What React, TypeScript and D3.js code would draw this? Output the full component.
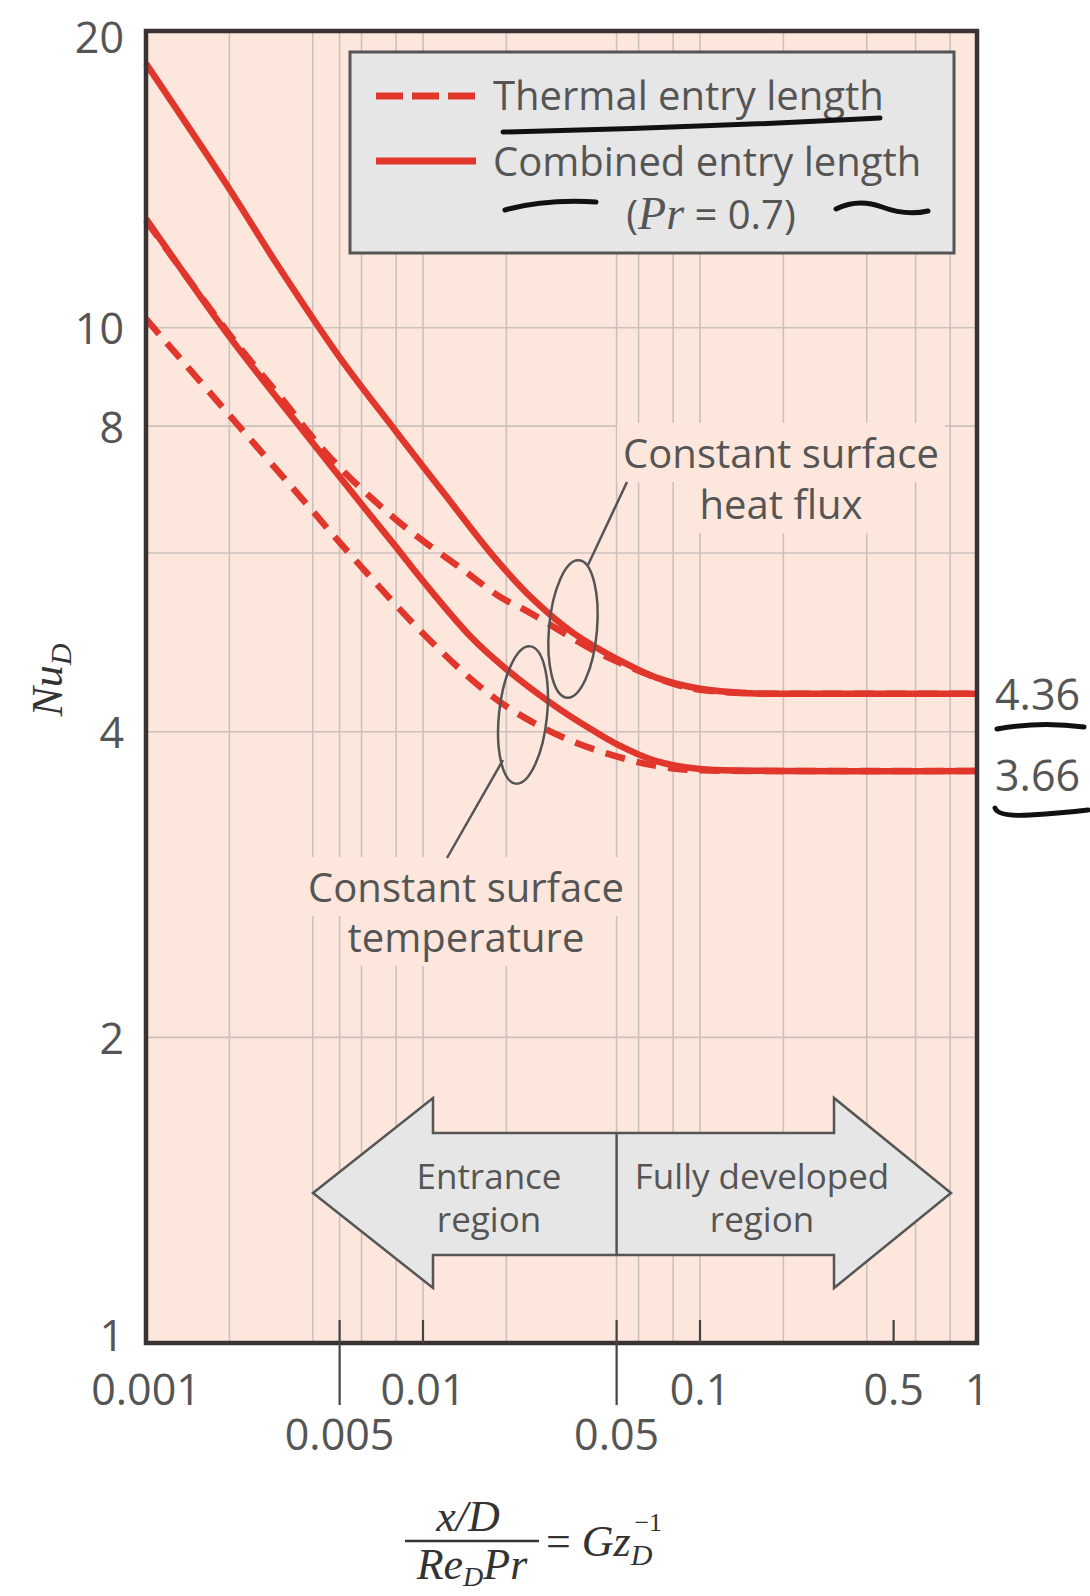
import React, { useEffect, useRef } from "react";
import * as d3 from "d3";

// Nu_D against (x/D)/(Re_D Pr)
const fluxCombined: [number, number][] = [
  [0.001, 18.2], [0.002, 13.7], [0.003, 11.5], [0.005, 9.35], [0.008, 7.9],
  [0.012, 6.85], [0.018, 5.95], [0.025, 5.4], [0.035, 5.0], [0.05, 4.72],
  [0.07, 4.52], [0.1, 4.41], [0.15, 4.365], [0.25, 4.36], [1, 4.36]
];
const fluxThermal: [number, number][] = [
  [0.001, 12.75], [0.002, 9.85], [0.003, 8.6], [0.0046, 7.46], [0.008, 6.47],
  [0.014, 5.77], [0.019, 5.43], [0.024, 5.25], [0.042, 4.8], [0.056, 4.63],
  [0.08, 4.46], [0.1, 4.4], [0.15, 4.365], [0.25, 4.36], [1, 4.36]
];
const tempCombined: [number, number][] = [
  [0.001, 12.8], [0.002, 9.8], [0.003, 8.5], [0.004, 7.7], [0.006, 6.7],
  [0.008, 6.08], [0.01, 5.63], [0.015, 4.95], [0.02, 4.61], [0.03, 4.24],
  [0.04, 4.03], [0.05, 3.89], [0.07, 3.74], [0.1, 3.675], [0.15, 3.662], [1, 3.66]
];
const tempThermal: [number, number][] = [
  [0.001, 10.2], [0.002, 8.2], [0.0035, 6.88], [0.006, 5.81], [0.0106, 4.92],
  [0.0185, 4.3], [0.032, 3.95], [0.056, 3.75], [0.08, 3.68], [0.1, 3.665],
  [0.15, 3.66], [1, 3.66]
];

const yTickValues = [1, 2, 4, 8, 10, 20];
const yGridValues = [2, 4, 6, 8, 10];
const xTicksUpper = [0.001, 0.01, 0.1, 0.5, 1];
const xTicksLower = [0.005, 0.05];
const xGridValues = [0.002, 0.004, 0.005, 0.006, 0.008, 0.01, 0.02, 0.05, 0.06, 0.08, 0.1, 0.2, 0.4, 0.6, 0.8];
const limitValues = [4.36, 3.66];
const legendLabels = ["Thermal entry length", "Combined entry length"];

const SANS = "'Open Sans', 'DejaVu Sans', sans-serif";
const SERIF = "'Liberation Serif', 'Times New Roman', serif";
const RED = "#e0362b";
const TEXT = "#555";
const BG = "#fde7dc";

const renderChart = (svg) => {
    svg.selectAll("*").remove();

    const left = 146, right = 977, top = 31, bottom = 1343;
    const x = d3.scaleLog().domain([0.001, 1]).range([left, right]);
    const y = d3.scaleLog().domain([1, 19.6]).range([bottom, top]).clamp(true);

    svg.append("rect").attr("width", 1090).attr("height", 1596).attr("fill", "#fff");
    svg.append("rect")
        .attr("x", left).attr("y", top)
        .attr("width", right - left).attr("height", bottom - top)
        .attr("fill", BG);

    // grid
    const grid = svg.append("g").attr("stroke", "#cbc1bd").attr("stroke-width", 1.6);
    grid.selectAll(".vg").data(xGridValues).enter().append("line")
        .attr("x1", d => x(d)).attr("x2", d => x(d))
        .attr("y1", top).attr("y2", bottom);
    grid.selectAll(".hg").data(yGridValues).enter().append("line")
        .attr("x1", left).attr("x2", right)
        .attr("y1", d => y(d)).attr("y2", d => y(d));

    // curves
    const line = d3.line()
        .x(d => x(d[0]))
        .y(d => y(d[1]))
        .curve(d3.curveCatmullRom.alpha(0.5));

    const curves = svg.append("g").attr("fill", "none").attr("stroke", RED)
        .attr("stroke-width", 6.5);
    [fluxCombined, tempCombined].forEach(s => {
        curves.append("path").attr("d", line(s));
    });
    [fluxThermal, tempThermal].forEach(s => {
        curves.append("path").attr("d", line(s)).attr("stroke-dasharray", "20 12");
    });

    // annotations
    const note = svg.append("g").attr("font-family", SANS).attr("font-size", 40)
        .attr("fill", TEXT).attr("text-anchor", "middle");
    const notes = [
        {x: 781, y: 468, t: "Constant surface"},
        {x: 781, y: 519, t: "heat flux"},
        {x: 466, y: 902, t: "Constant surface"},
        {x: 466, y: 952, t: "temperature"}
    ];
    notes.forEach(n => {
        const bgRect = note.append("rect").attr("fill", BG);
        const tx = note.append("text").attr("x", n.x).attr("y", n.y).text(n.t);
        const b = tx.node().getBBox();
        bgRect.attr("x", b.x - 6).attr("y", b.y - 2).attr("width", b.width + 12).attr("height", b.height + 4);
    });

    const ann = svg.append("g").attr("fill", "none").attr("stroke", "#555").attr("stroke-width", 2.5);
    ann.append("ellipse").attr("cx", 573).attr("cy", 629).attr("rx", 24).attr("ry", 69)
        .attr("transform", "rotate(5 573 629)");
    ann.append("ellipse").attr("cx", 523).attr("cy", 715).attr("rx", 24).attr("ry", 69)
        .attr("transform", "rotate(6 523 715)");
    ann.append("line").attr("x1", 588).attr("y1", 565).attr("x2", 627).attr("y2", 482);
    ann.append("line").attr("x1", 503).attr("y1", 760).attr("x2", 447).attr("y2", 858);

    // region arrow
    const xm = x(0.05);
    const arrowPts = [
        [313, 1193], [433, 1098], [433, 1133], [834, 1133], [834, 1098], [951, 1193],
        [834, 1288], [834, 1255], [433, 1255], [433, 1288]
    ];
    svg.append("polygon")
        .attr("points", arrowPts.map(p => p.join(",")).join(" "))
        .attr("fill", "#e6e6e6").attr("stroke", "#555").attr("stroke-width", 2.5)
        .attr("stroke-linejoin", "miter");
    svg.append("line").attr("x1", xm).attr("x2", xm).attr("y1", 1133).attr("y2", 1255)
        .attr("stroke", "#555").attr("stroke-width", 2.5);
    const region = svg.append("g").attr("font-family", SANS).attr("font-size", 35)
        .attr("fill", TEXT).attr("text-anchor", "middle");
    region.append("text").attr("x", 489).attr("y", 1189).text("Entrance");
    region.append("text").attr("x", 489).attr("y", 1232).text("region");
    region.append("text").attr("x", 762).attr("y", 1189).text("Fully developed");
    region.append("text").attr("x", 762).attr("y", 1232).text("region");

    // legend
    const lg = svg.append("g");
    lg.append("rect").attr("x", 350).attr("y", 52).attr("width", 604).attr("height", 201)
        .attr("fill", "#e6e6e7").attr("stroke", "#555").attr("stroke-width", 3);
    lg.append("line").attr("x1", 376).attr("x2", 476).attr("y1", 96).attr("y2", 96)
        .attr("stroke", RED).attr("stroke-width", 7).attr("stroke-dasharray", "27 9");
    lg.append("line").attr("x1", 376).attr("x2", 476).attr("y1", 161).attr("y2", 161)
        .attr("stroke", RED).attr("stroke-width", 7);
    lg.selectAll(".lt").data(legendLabels).enter().append("text")
        .attr("x", 493).attr("y", (d, i) => 110 + i * 66)
        .attr("font-family", SANS).attr("font-size", 40).attr("fill", TEXT)
        .text(d => d);
    const pr = lg.append("text").attr("x", 711).attr("y", 229).attr("text-anchor", "middle")
        .attr("font-family", SANS).attr("font-size", 40).attr("fill", TEXT);
    pr.append("tspan").text("(");
    pr.append("tspan").attr("font-family", SERIF).attr("font-style", "italic").attr("font-size", 46).text("Pr");
    pr.append("tspan").text(" = 0.7)");

    // frame
    svg.append("rect")
        .attr("x", left).attr("y", top)
        .attr("width", right - left).attr("height", bottom - top)
        .attr("fill", "none").attr("stroke", "#3a3333").attr("stroke-width", 4.5);

    // x ticks
    const ticks = svg.append("g").attr("stroke", "#444").attr("stroke-width", 2.2);
    ticks.selectAll(".tu").data(xTicksUpper.slice(1, 4)).enter().append("line")
        .attr("x1", d => x(d)).attr("x2", d => x(d)).attr("y1", bottom - 23).attr("y2", bottom);
    ticks.selectAll(".tl").data(xTicksLower).enter().append("line")
        .attr("x1", d => x(d)).attr("x2", d => x(d)).attr("y1", bottom - 23).attr("y2", bottom + 62);

    const lbl = svg.append("g").attr("font-family", SANS).attr("font-size", 43).attr("fill", TEXT);
    lbl.selectAll(".xu").data(xTicksUpper).enter().append("text")
        .attr("x", d => x(d)).attr("y", 1388).attr("text-anchor", "middle")
        .attr("dominant-baseline", "central").text(d => String(d));
    lbl.selectAll(".xl").data(xTicksLower).enter().append("text")
        .attr("x", d => x(d)).attr("y", 1433).attr("text-anchor", "middle")
        .attr("dominant-baseline", "central").text(d => String(d));
    lbl.selectAll(".yl").data(yTickValues).enter().append("text")
        .attr("x", 124).attr("y", d => y(d) + (d === 20 ? 5 : d === 1 ? -9 : 0))
        .attr("text-anchor", "end")
        .attr("dominant-baseline", "central").text(d => String(d));
    lbl.selectAll(".lim").data(limitValues).enter().append("text")
        .attr("x", 995).attr("y", (d, i) => y(d) + (i === 1 ? 4 : 0))
        .attr("dominant-baseline", "central").text(d => d.toFixed(2));

    // axis titles
    const math = svg.append("g").attr("font-family", SERIF).attr("font-style", "italic")
        .attr("fill", "#333").attr("font-size", 44);
    const nu = math.append("text").attr("text-anchor", "middle")
        .attr("transform", "translate(62, 680) rotate(-90)");
    nu.append("tspan").text("Nu");
    nu.append("tspan").attr("font-size", 30).attr("dy", 9).text("D");

    math.append("text").attr("x", 468).attr("y", 1531).attr("text-anchor", "middle").text("x/D");
    math.append("line").attr("x1", 405).attr("x2", 539).attr("y1", 1541).attr("y2", 1541)
        .attr("stroke", "#333").attr("stroke-width", 2.5);
    const den = math.append("text").attr("x", 472).attr("y", 1579).attr("text-anchor", "middle");
    den.append("tspan").text("Re");
    den.append("tspan").attr("font-size", 28).attr("dy", 7).text("D");
    den.append("tspan").attr("dy", -7).text("Pr");
    const gz = math.append("text").attr("x", 546).attr("y", 1556);
    gz.append("tspan").attr("font-style", "normal").text("= ");
    gz.append("tspan").text("Gz");
    gz.append("tspan").attr("font-size", 30).attr("dy", 9).text("D");
    gz.append("tspan").attr("font-size", 26).attr("font-style", "normal")
        .attr("dx", -18).attr("dy", -34).text("\u22121");

    // hand-drawn marks on the page
    const ink = svg.append("g").attr("fill", "none").attr("stroke", "#111")
        .attr("stroke-width", 5).attr("stroke-linecap", "round");
    ink.append("path").attr("d", "M503 132 Q690 128 880 118");
    ink.append("path").attr("d", "M505 210 Q545 199 596 202");
    ink.append("path").attr("d", "M836 209 Q858 198 882 207 T928 211");
    ink.append("path").attr("d", "M997 729 Q1040 721 1084 727");
    ink.append("path").attr("d", "M995 808 Q998 817 1030 815 T1088 810");
};

const App = () => {
    const svgRef = useRef(null);

    useEffect(() => {
        d3.select(svgRef.current).call(renderChart);
    }, []);

    return (
        <svg ref={svgRef} width={1090} height={1596}
             style={{position: "absolute", left: 0, top: 0}}/>
    );
};

export default App;
